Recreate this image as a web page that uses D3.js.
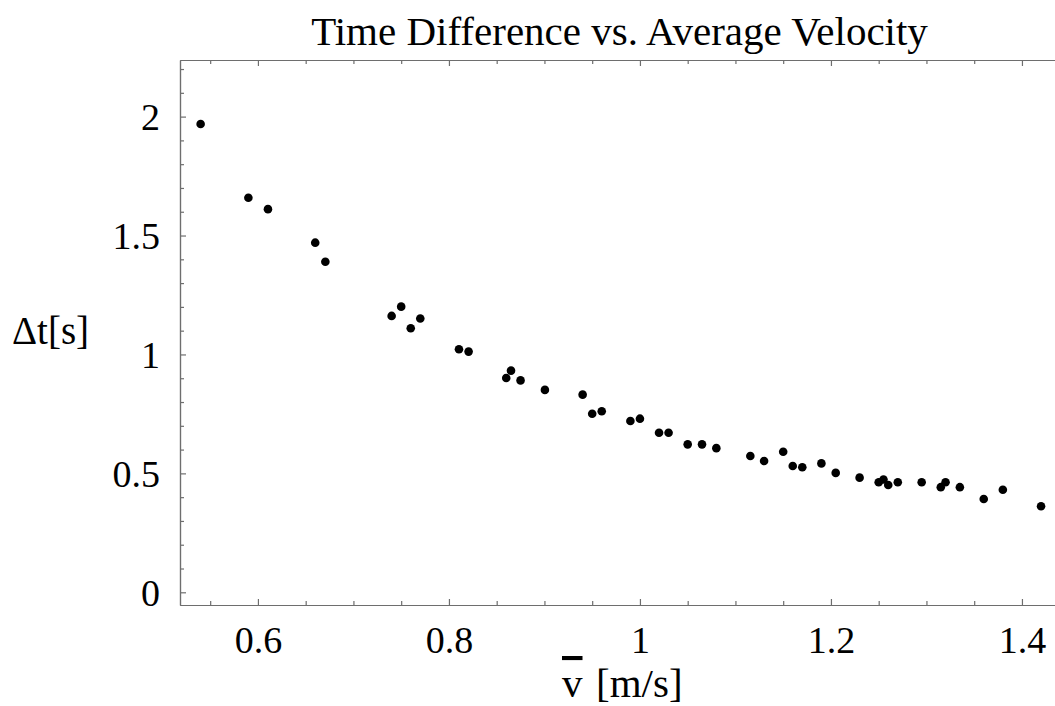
<!DOCTYPE html>
<html>
<head>
<meta charset="utf-8">
<script src="https://cdn.jsdelivr.net/npm/d3@7"></script>
<style>
	body { margin: 0; background: #fff; }
	svg text { font-family: 'Liberation Serif', 'Times New Roman', serif; fill: #000; }
	.frame line, .frame path { stroke: #6e6e6e; stroke-width: 1.2; }
</style>
</head>
<body>
<svg id="viz"></svg>
<script>
// average velocity [m/s]
var velocity = [
	0.540, 0.590, 0.6105, 0.660, 0.6706,
	0.740, 0.750, 0.760, 0.770,
	0.8105, 0.8206, 0.860, 0.865, 0.875, 0.9005,
	0.940, 0.950, 0.960, 0.990, 1.000, 1.020, 1.030,
	1.050, 1.065, 1.080, 1.1156, 1.130, 1.150, 1.160, 1.170,
	1.190, 1.205, 1.230, 1.250, 1.255, 1.260, 1.270, 1.295,
	1.315, 1.320, 1.335, 1.360, 1.380, 1.420
];
// time difference [s]
var timeDiff = [
	1.969, 1.659, 1.611, 1.470, 1.390,
	1.162, 1.201, 1.110, 1.151,
	1.022, 1.012, 0.901, 0.932, 0.891, 0.851,
	0.831, 0.751, 0.761, 0.720, 0.730, 0.671, 0.671,
	0.622, 0.622, 0.606, 0.573, 0.552, 0.591, 0.531, 0.526,
	0.542, 0.502, 0.482, 0.463, 0.474, 0.451, 0.463, 0.463,
	0.442, 0.463, 0.442, 0.392, 0.431, 0.362
];

var xMajor = [ 0.6, 0.8, 1, 1.2, 1.4 ];
var xMinor = [ 0.55, 0.65, 0.7, 0.75, 0.85, 0.9, 0.95, 1.05, 1.1, 1.15, 1.25, 1.3, 1.35, 1.45 ];
var yMajor = [ 0, 0.5, 1, 1.5, 2 ];
var yMinor = [ 0.1, 0.2, 0.3, 0.4, 0.6, 0.7, 0.8, 0.9, 1.1, 1.2, 1.3, 1.4, 1.6, 1.7, 1.8, 1.9, 2.1, 2.2 ];

var title = 'Time Difference vs. Average Velocity';

var width = 1055, height = 706;
var mLeft = 180, mRight = 1059, mTop = 60, mBottom = 605;

var svg = d3.select( '#viz' )
	.attr( 'width', width )
	.attr( 'height', height );

var xScale = d3.scaleLinear()
	.domain( [ 0.5184, 1.4388 ] )
	.range( [ mLeft, mRight ] );
var yScale = d3.scaleLinear()
	.domain( [ -0.0534, 2.238 ] )
	.range( [ mBottom, mTop ] );

var fmt = function ( d ) { return String( d ); };

// frame: bottom
var gBottom = svg.append( 'g' ).attr( 'class', 'frame' )
	.attr( 'transform', 'translate(0,' + mBottom + ')' );
gBottom.call( d3.axisBottom( xScale ).tickValues( xMajor ).tickSizeInner( -6 ).tickSizeOuter( 0 )
	.tickPadding( 20 ).tickFormat( fmt ) );
gBottom.append( 'g' ).call( d3.axisBottom( xScale ).tickValues( xMinor ).tickSizeInner( -4 ).tickSizeOuter( 0 )
	.tickFormat( '' ) );

// frame: top
var gTop = svg.append( 'g' ).attr( 'class', 'frame' )
	.attr( 'transform', 'translate(0,' + mTop + ')' );
gTop.call( d3.axisTop( xScale ).tickValues( xMajor ).tickSizeInner( -6 ).tickSizeOuter( 0 ).tickFormat( '' ) );
gTop.append( 'g' ).call( d3.axisTop( xScale ).tickValues( xMinor ).tickSizeInner( -4 ).tickSizeOuter( 0 ).tickFormat( '' ) );

// frame: left
var gLeft = svg.append( 'g' ).attr( 'class', 'frame' )
	.attr( 'transform', 'translate(' + mLeft + ',0)' );
gLeft.call( d3.axisLeft( yScale ).tickValues( yMajor ).tickSizeInner( -6 ).tickSizeOuter( 0 )
	.tickPadding( 20 ).tickFormat( fmt ) );
gLeft.append( 'g' ).call( d3.axisLeft( yScale ).tickValues( yMinor ).tickSizeInner( -4 ).tickSizeOuter( 0 ).tickFormat( '' ) );

svg.selectAll( '.frame text' )
	.attr( 'font-size', 38 )
	.style( 'font-family', "'Liberation Serif', serif" )
	.attr( 'fill', '#000' );
gBottom.selectAll( '.tick text' ).attr( 'dy', '0.71em' ).attr( 'y', 21 );
gLeft.selectAll( '.tick text' ).attr( 'x', -20 ).attr( 'dy', '0.34em' );

// points
svg.append( 'g' ).selectAll( 'circle' )
	.data( d3.range( velocity.length ) )
	.enter()
	.append( 'circle' )
	.attr( 'cx', function ( i ) { return xScale( velocity[i] ); } )
	.attr( 'cy', function ( i ) { return yScale( timeDiff[i] ); } )
	.attr( 'r', 4.3 )
	.attr( 'fill', '#000' );

// title
svg.append( 'text' )
	.attr( 'x', ( mLeft + mRight ) / 2 )
	.attr( 'y', 45 )
	.attr( 'text-anchor', 'middle' )
	.attr( 'font-size', 41 )
	.text( title );

// y label
svg.append( 'text' )
	.attr( 'x', 12 )
	.attr( 'y', 344 )
	.attr( 'font-size', 39 )
	.text( '\u0394t[s]' );

// x label with overlined v
var xl = svg.append( 'text' )
	.attr( 'y', 697 )
	.attr( 'font-size', 41 );
xl.append( 'tspan' ).attr( 'x', 562 ).style( 'text-decoration', 'overline' ).text( 'v' );
xl.append( 'tspan' ).attr( 'x', 596 ).text( '[m/s]' );
</script>
</body>
</html>
